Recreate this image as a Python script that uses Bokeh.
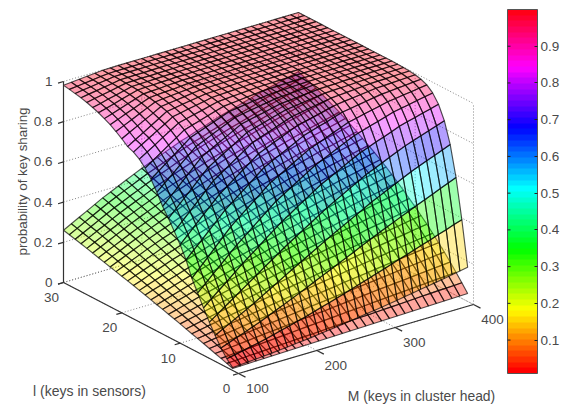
import colorsys
import numpy as np
from bokeh.core.properties import value
from bokeh.embed import file_html
from bokeh.models import ColorBar, ColumnDataSource, FixedTicker, LinearColorMapper, PrintfTickFormatter, Range1d
from bokeh.plotting import figure
from bokeh.resources import INLINE
from bokeh.transform import linear_cmap

M_keys = list(range(100, 410, 10))
l_keys = list(range(1, 31))

z_ticks = [0, 0.2, 0.4, 0.6, 0.8, 1]
z_tick_labels = ["0", "0.2", "0.4", "0.6", "0.8", "1"]
l_ticks = [0, 10, 20, 30]
M_ticks = [100, 200, 300, 400]
cbar_ticks = [0.1, 0.2, 0.3, 0.4, 0.5, 0.6, 0.7, 0.8, 0.9]
z_title = "probability of key sharing"
l_title = "l (keys in sensors)"
M_title = "M (keys in cluster head)"

# sharing probability x 1000: one row per l, one column per M
upper_sheet = [
[14,17,20,23,26,29,33,37,41,45,49,54,59,64,69,74,80,86,91,97,103,109,116,122,129,135,142,149,156,163,170],
[43,51,59,68,76,85,95,106,116,127,137,149,161,172,184,196,209,222,234,247,260,273,286,299,312,325,338,352,365,379,392],
[82,96,111,125,140,155,172,189,206,223,240,258,276,294,312,330,348,366,385,403,421,438,455,472,489,506,522,538,555,571,587],
[129,150,171,192,213,234,257,280,303,326,349,371,393,416,438,460,481,502,523,544,565,583,602,620,639,657,673,689,704,720,736],
[180,207,235,262,290,317,344,372,399,426,453,478,503,527,552,577,599,620,642,663,685,702,719,737,754,771,785,798,812,825,839],
[236,269,302,334,367,400,430,460,491,521,551,576,602,627,653,678,698,718,739,759,779,794,809,823,838,853,864,874,885,895,906],
[295,331,368,404,441,477,509,541,573,605,637,661,686,710,735,759,777,795,814,832,850,862,874,885,897,909,917,924,932,939,947],
[353,393,433,474,514,554,586,618,649,681,713,735,757,780,802,824,839,854,870,885,900,909,918,927,936,945,950,956,961,967,972],
[430,468,505,544,582,621,652,683,714,745,776,796,816,835,855,875,888,900,911,924,936,942,949,955,962,968,971,975,978,982,985],
[490,529,568,606,645,683,712,741,770,799,828,845,862,878,895,912,921,931,940,950,959,964,968,973,977,982,984,986,988,990,992],
[540,579,618,657,697,736,763,789,816,842,869,883,897,912,926,940,947,954,961,968,975,978,981,984,987,990,991,992,994,995,996],
[590,629,668,706,745,784,808,832,855,879,903,914,925,937,948,959,964,970,975,980,985,987,989,990,992,994,995,995,996,997,998],
[635,673,711,749,787,825,846,867,887,908,929,938,947,955,964,973,977,980,984,987,991,992,993,995,996,997,997,998,998,999,999],
[690,724,758,793,827,861,878,896,913,931,948,955,962,968,975,982,985,987,990,992,995,996,997,997,998,999,999,999,999,1000,1000],
[740,770,800,829,859,889,904,919,933,948,963,968,973,979,984,989,991,992,994,995,997,997,998,998,999,999,999,999,1000,1000,1000],
[780,807,833,860,886,913,925,937,949,961,973,977,981,985,989,993,994,995,996,997,998,998,999,999,999,999,1000,1000,1000,1000,1000],
[810,834,858,884,908,932,942,952,961,971,981,984,987,989,992,995,996,997,997,998,999,999,999,999,1000,1000,1000,1000,1000,1000,1000],
[830,854,877,901,924,948,956,964,971,979,987,989,991,993,995,997,997,998,998,999,999,999,999,1000,1000,1000,1000,1000,1000,1000,1000],
[842,866,889,913,936,960,966,973,979,985,991,992,994,995,997,998,998,999,999,999,999,1000,1000,1000,1000,1000,1000,1000,1000,1000,1000],
[866,887,907,928,948,969,974,979,984,989,994,995,996,997,998,999,999,999,1000,1000,1000,1000,1000,1000,1000,1000,1000,1000,1000,1000,1000],
[887,905,923,941,959,977,981,985,988,992,996,997,997,998,998,999,999,1000,1000,1000,1000,1000,1000,1000,1000,1000,1000,1000,1000,1000,1000],
[906,921,937,952,968,983,986,989,991,994,997,997,998,998,999,999,1000,1000,1000,1000,1000,1000,1000,1000,1000,1000,1000,1000,1000,1000,1000],
[921,934,947,961,974,987,989,991,994,996,998,998,999,999,999,1000,1000,1000,1000,1000,1000,1000,1000,1000,1000,1000,1000,1000,1000,1000,1000],
[935,946,957,969,980,991,993,994,996,997,999,999,999,1000,1000,1000,1000,1000,1000,1000,1000,1000,1000,1000,1000,1000,1000,1000,1000,1000,1000],
[946,955,965,974,984,993,994,995,997,998,999,999,1000,1000,1000,1000,1000,1000,1000,1000,1000,1000,1000,1000,1000,1000,1000,1000,1000,1000,1000],
[956,964,972,979,987,995,996,997,997,998,999,999,1000,1000,1000,1000,1000,1000,1000,1000,1000,1000,1000,1000,1000,1000,1000,1000,1000,1000,1000],
[964,971,977,984,990,997,997,998,998,999,1000,1000,1000,1000,1000,1000,1000,1000,1000,1000,1000,1000,1000,1000,1000,1000,1000,1000,1000,1000,1000],
[970,976,981,987,992,998,998,999,999,999,1000,1000,1000,1000,1000,1000,1000,1000,1000,1000,1000,1000,1000,1000,1000,1000,1000,1000,1000,1000,1000],
[976,980,985,989,994,998,999,999,999,999,1000,1000,1000,1000,1000,1000,1000,1000,1000,1000,1000,1000,1000,1000,1000,1000,1000,1000,1000,1000,1000],
[981,985,988,992,995,999,999,1000,1000,1000,1000,1000,1000,1000,1000,1000,1000,1000,1000,1000,1000,1000,1000,1000,1000,1000,1000,1000,1000,1000,1000],
]

lower_sheet = [
[10,11,12,13,14,15,16,17,18,19,20,21,22,23,24,25,26,27,28,29,30,31,32,33,34,35,36,37,38,39,40],
[20,22,24,26,28,30,32,34,36,38,40,42,44,46,48,50,52,54,55,57,59,61,63,65,67,69,71,73,74,76,78],
[30,33,36,38,41,44,47,50,53,56,59,62,65,67,70,73,76,79,81,84,87,90,93,95,98,101,104,107,109,112,115],
[39,43,47,51,55,59,63,67,70,74,78,82,85,89,92,96,100,104,107,111,115,119,122,126,129,133,137,140,144,147,151],
[49,54,59,63,68,73,78,82,87,91,96,101,105,110,114,119,123,128,132,137,141,145,150,154,159,163,167,172,176,181,185],
[59,65,70,76,81,87,92,98,103,109,114,119,125,130,136,141,146,151,157,162,167,172,177,182,187,192,197,202,207,212,217],
[68,74,81,87,94,100,106,113,119,126,132,138,144,150,156,162,168,174,180,186,192,198,204,209,215,221,227,232,238,243,249],
[77,84,92,99,107,114,121,128,135,142,149,156,163,169,176,183,190,196,203,209,216,222,229,235,242,248,254,260,267,273,279],
[86,94,102,111,119,127,135,143,150,158,166,174,181,189,196,204,211,218,226,233,240,247,254,260,267,274,281,287,294,300,307],
[96,105,114,122,131,140,149,157,166,174,183,191,199,208,216,224,232,240,247,255,263,270,278,285,293,300,307,314,321,328,335],
[105,115,124,134,143,153,162,171,181,190,199,208,217,225,234,243,251,260,268,277,285,293,301,308,316,324,331,339,346,354,361],
[114,124,135,145,156,166,176,186,195,205,215,224,234,243,253,262,271,280,288,297,306,314,323,331,340,348,356,364,371,379,387],
[123,134,145,156,167,178,189,199,210,220,231,241,251,260,270,280,289,299,308,318,327,336,345,353,362,371,379,387,395,403,411],
[131,143,155,167,179,191,202,213,224,235,246,256,267,277,288,298,308,318,327,337,347,356,365,375,384,393,401,410,418,427,435],
[140,153,165,178,190,203,215,226,238,249,261,272,283,294,305,316,326,336,347,357,367,376,386,395,405,414,423,432,440,449,458],
[149,162,175,189,202,215,227,240,252,264,276,287,299,310,322,333,344,354,365,375,386,396,406,415,425,435,444,452,461,470,479],
[157,171,185,198,212,226,239,252,264,277,290,302,314,326,338,350,361,372,382,393,404,414,424,434,444,454,463,472,482,491,500],
[166,180,195,209,224,238,251,265,278,292,305,317,329,342,354,366,377,388,400,411,422,432,443,453,464,474,483,492,502,511,520],
[174,189,204,219,234,249,263,277,290,304,318,331,344,356,369,382,393,405,416,428,439,450,460,471,481,492,501,511,520,530,539],
[182,198,214,229,245,261,275,289,304,318,332,345,358,371,384,397,409,421,432,444,456,467,478,488,499,510,520,529,539,548,558],
[190,206,223,239,256,272,287,301,316,330,345,358,372,385,399,412,424,436,448,460,472,483,494,505,516,527,537,547,556,566,576],
[198,215,232,249,266,283,298,313,329,344,359,373,386,400,413,427,439,451,464,476,488,499,510,522,533,544,554,564,573,583,593],
[206,224,241,259,276,294,310,325,341,356,372,386,400,413,427,441,454,466,479,491,504,515,526,538,549,560,570,580,590,600,610],
[214,232,250,268,286,304,320,336,352,368,384,398,412,427,441,455,468,480,493,505,518,529,541,552,564,575,585,595,605,615,625],
[222,241,259,278,296,315,331,348,364,381,397,411,426,440,455,469,482,495,507,520,533,544,556,567,579,590,600,610,620,630,640],
[230,249,268,287,306,325,342,359,375,392,409,424,438,453,467,482,495,508,521,534,547,558,570,581,593,604,614,624,634,644,654],
[238,257,277,296,316,335,352,369,386,403,420,435,450,465,480,495,508,521,534,547,560,572,583,595,606,618,628,638,648,658,668],
[245,265,285,305,325,345,362,380,397,415,432,447,462,478,493,508,521,534,548,561,574,585,597,608,620,631,641,651,661,671,681],
[253,273,294,314,335,355,373,391,408,426,443,458,474,489,505,520,533,546,560,573,586,598,610,620,632,644,654,664,674,684,694],
[260,281,302,322,343,364,382,400,418,436,454,470,485,501,516,532,545,559,572,586,599,611,622,634,645,657,667,676,686,696,706],
]

Z_LOW, Z_HIGH = 0.009, 1.0
hsv_palette = ["#%02x%02x%02x" % tuple(int(round(c * 255)) for c in colorsys.hsv_to_rgb(i / 64, 1, 1)) for i in range(64)]

FONT = value("Liberation Sans")
TEXT_COLOR = "#4a4a4a"


def project(M, l, z):
    """Orthographic view of the box: returns page x, y."""
    m = (np.asarray(M, float) - 100) / 300
    n = np.asarray(l, float) / 30
    return 238 + 235 * m - 175 * n, 373 - 69 * m - 91 * n - 201 * np.asarray(z, float)


def depth(M, l, z):
    return (M - 100) / 300 + l / 30 - 0.6 * z


p = figure(width=563, height=407, x_range=Range1d(0, 563), y_range=Range1d(407, 0),
           output_backend="svg", toolbar_location=None, min_border=0)
p.axis.visible = False
p.grid.visible = False
p.outline_line_color = None


def seg(a, b):
    x, y = project(*zip(a, b))
    return list(x), list(y)


# dotted box and grid on the back walls and the floor
grid_lines = []
for zv in z_ticks:
    grid_lines.append(((100, 30, zv), (400, 30, zv)))
    grid_lines.append(((400, 30, zv), (400, 0, zv)))
for mv in M_ticks:
    grid_lines.append(((mv, 30, 0), (mv, 30, 1)))
    grid_lines.append(((mv, 0, 0), (mv, 30, 0)))
for lv in l_ticks:
    grid_lines.append(((400, lv, 0), (400, lv, 1)))
    grid_lines.append(((100, lv, 0), (400, lv, 0)))
gx, gy = zip(*(seg(a, b) for a, b in grid_lines))
p.multi_line(list(gx), list(gy), line_color="#666666", line_dash="1 2", line_width=1, line_alpha=0.8)

# surface cells, far ones first
cells = []
Z_arrays = [np.array(upper_sheet) / 1000, np.array(lower_sheet) / 1000]
for Z in Z_arrays:
    for i in range(len(l_keys) - 1):
        for j in range(len(M_keys) - 1):
            Ms = [M_keys[j], M_keys[j + 1], M_keys[j + 1], M_keys[j]]
            ls = [l_keys[i], l_keys[i], l_keys[i + 1], l_keys[i + 1]]
            zs = [Z[i, j], Z[i, j + 1], Z[i + 1, j + 1], Z[i + 1, j]]
            cells.append((depth(np.mean(Ms), np.mean(ls), np.mean(zs)), Ms, ls, zs))
cells.sort(key=lambda c: -c[0])
xs, ys, zc = [], [], []
for _, Ms, ls, zs in cells:
    x, y = project(Ms, ls, zs)
    xs.append(list(x))
    ys.append(list(y))
    zc.append(float(zs[0]))
src = ColumnDataSource(dict(xs=xs, ys=ys, zc=zc))
p.patches("xs", "ys", source=src,
          fill_color=linear_cmap("zc", hsv_palette, Z_LOW, Z_HIGH), fill_alpha=0.38,
          line_color="black", line_alpha=0.68, line_width=1.15)

# solid axes
axis_lines = [((100, 30, 0), (100, 30, 1)), ((100, 30, 0), (100, 0, 0)), ((100, 0, 0), (400, 0, 0))]
ticks = []
for zv in z_ticks:
    ticks.append(((100, 30, zv), (93, 30, zv)))
for lv in l_ticks:
    ticks.append(((100, lv, 0), (93, lv, 0)))
for mv in M_ticks:
    ticks.append(((mv, 0, 0), (mv, -1.2, 0)))
ax, ay = zip(*(seg(a, b) for a, b in axis_lines + ticks))
p.multi_line(list(ax), list(ay), line_color="#333333", line_width=1.2)

# tick labels and titles
zx, zy = project([100] * len(z_ticks), [30] * len(z_ticks), z_ticks)
p.text(zx - 11, zy, text=z_tick_labels, text_font=FONT, text_font_size="13.5px", text_color=TEXT_COLOR,
       text_align="right", text_baseline="middle")
lx, ly = project([100] * len(l_ticks), l_ticks, [0] * len(l_ticks))
p.text(lx - 12, ly + 15, text=[str(v) for v in l_ticks], text_font=FONT, text_font_size="13.5px",
       text_color=TEXT_COLOR, text_align="center", text_baseline="middle")
mx, my = project(M_ticks, [0] * len(M_ticks), [0] * len(M_ticks))
p.text(mx + 19, my + 15, text=[str(v) for v in M_ticks], text_font=FONT, text_font_size="13.5px",
       text_color=TEXT_COLOR, text_align="center", text_baseline="middle")
p.text([22], [181], text=[z_title], angle=np.pi / 2, text_font=FONT, text_font_size="13.4px",
       text_color=TEXT_COLOR, text_align="center", text_baseline="middle")
p.text([89], [390], text=[l_title], text_font=FONT, text_font_size="14px", text_color=TEXT_COLOR,
       text_align="center", text_baseline="middle")
p.text([421], [395], text=[M_title], text_font=FONT, text_font_size="13.9px", text_color=TEXT_COLOR,
       text_align="center", text_baseline="middle")

# colour bar
CB_LEFT, CB_BOTTOM, CB_W, CB_H = 507, 373, 30, 364
mapper = LinearColorMapper(palette=hsv_palette, low=Z_LOW, high=Z_HIGH)
cb = ColorBar(color_mapper=mapper, ticker=FixedTicker(ticks=cbar_ticks), formatter=PrintfTickFormatter(format="%.1f"),
              width=CB_W, height=CB_H, location=(CB_LEFT, 407 - CB_BOTTOM), padding=0, margin=0,
              major_tick_in=3, major_tick_out=0, major_tick_line_color="#222222", minor_tick_line_color=None,
              bar_line_color="#555555", major_label_text_font="Liberation Sans", major_label_text_font_size="13.5px",
              major_label_text_color=TEXT_COLOR, label_standoff=3, background_fill_alpha=0, border_line_color=None)
p.add_layout(cb, "center")
tick_y = [CB_BOTTOM - (v - Z_LOW) / (Z_HIGH - Z_LOW) * CB_H for v in cbar_ticks]
p.segment([CB_LEFT] * len(tick_y), tick_y, [CB_LEFT + 3] * len(tick_y), tick_y, line_color="#222222", level="overlay")

open("out.html", "w").write(file_html(p, INLINE))
